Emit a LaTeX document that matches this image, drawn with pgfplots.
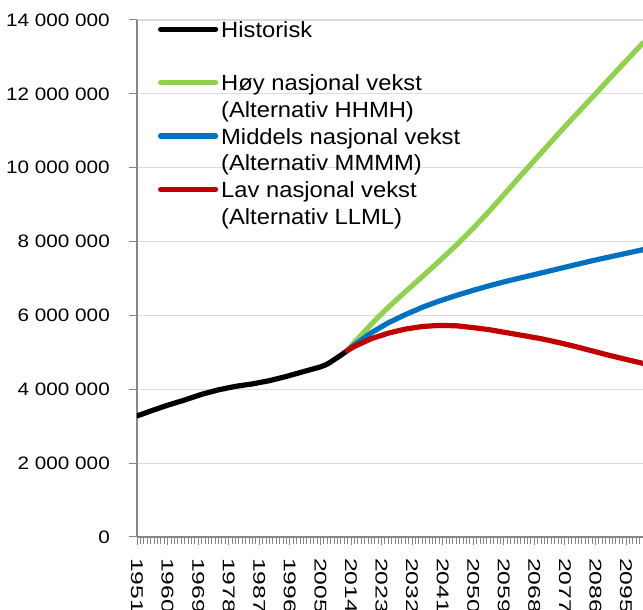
\documentclass[border=0pt]{standalone}
\usepackage{pgfplots}
\pgfplotsset{compat=1.18}
\usepackage{pgfplotstable}
\usepackage{fontspec}
\setmainfont{Liberation Sans}
\newfontfamily\ylabfont{Liberation Sans}[FakeStretch=1.15]
\newfontfamily\xlabfont{Liberation Sans}[FakeStretch=1.45]
\newfontfamily\legfont{Liberation Sans}[FakeStretch=1.08]
\definecolor{hoy}{RGB}{146,208,80}
\definecolor{mid}{RGB}{0,112,192}
\definecolor{lav}{RGB}{192,0,0}
\definecolor{gridc}{RGB}{217,222,220}
\definecolor{axc}{RGB}{134,134,134}

\pgfplotstableread{
year pop
1951 3278546
1953 3343000
1955 3410000
1960 3568000
1965 3708000
1970 3863000
1975 3985000
1980 4079000
1985 4146000
1990 4233000
1995 4348000
2000 4478000
2005 4606000
2006 4640000
2007 4681000
2008 4737000
2009 4799000
2010 4858000
2011 4920000
2012 4986000
2013 5051000
}\histtab

\pgfplotstableread{
year pop
2013 5051000
2015 5270000
2020 5760000
2022 5950000
2025 6220000
2030 6640000
2035 7050000
2040 7470000
2045 7900000
2050 8360000
2055 8850000
2060 9370000
2065 9890000
2070 10400000
2075 10910000
2080 11410000
2085 11900000
2090 12400000
2095 12890000
2100 13380000
}\hoytab

\pgfplotstableread{
year pop
2013 5051000
2015 5200000
2020 5530000
2025 5800000
2030 6020000
2035 6220000
2040 6390000
2045 6540000
2050 6680000
2055 6810000
2060 6930000
2065 7040000
2070 7150000
2075 7260000
2080 7370000
2085 7480000
2090 7580000
2095 7680000
2100 7780000
}\midtab

\pgfplotstableread{
year pop
2013 5051000
2015 5160000
2020 5370000
2025 5520000
2030 5630000
2035 5700000
2040 5730000
2045 5720000
2050 5670000
2055 5610000
2060 5530000
2065 5450000
2070 5370000
2075 5270000
2080 5160000
2085 5040000
2090 4920000
2095 4810000
2100 4700000
}\lavtab

\begin{document}
\begin{tikzpicture}
\begin{axis}[
  at={(0pt,0pt)}, anchor=south west,
  scale only axis, width=506pt, height=517pt,
  xmin=1951, xmax=2100, ymin=0, ymax=14000000,
  axis x line=bottom, axis y line=left,
  axis line style={-, draw=axc, line width=1.2pt},
  xtick={1951,1960,...,2095}, minor xtick={1951,...,2100},
  ytick={0,2000000,4000000,6000000,8000000,10000000,12000000,14000000},
  yticklabels={0,2 000 000,4 000 000,6 000 000,8 000 000,10 000 000,12 000 000,14 000 000},
  tick align=outside, major tick length=8pt, minor tick length=7pt,
  x tick style={draw=axc, line width=0.8pt},
  y tick style={draw=axc, line width=1pt},
  ymajorgrids, major grid style={draw=gridc, line width=1.2pt},
  scaled y ticks=false,
  /pgf/number format/assume math mode=true,
  xticklabel style={rotate=-90, anchor=west, inner xsep=13pt, inner ysep=0pt,
    font=\xlabfont\fontsize{17}{20}\selectfont, /pgf/number format/1000 sep={}},
  yticklabel style={inner xsep=19pt, font=\ylabfont\fontsize{18}{21}\selectfont},
  legend style={at={(rel axis cs:0,1)}, anchor=north west, xshift=21pt, yshift=1.4pt,
    draw=none, fill=none, inner sep=0pt, outer sep=0pt, row sep=0pt, column sep=3pt,
    font=\legfont\fontsize{22}{26.7}\selectfont, cells={anchor=base west},
    nodes={inner sep=0pt, text depth=, text height=}},
  legend image code/.code={\draw[#1, line cap=round] (0pt,8pt) -- (55pt,8pt);},
  every axis plot/.append style={line width=5.2pt, line join=round, line cap=round},
]
\addplot[black] table[x=year,y=pop] {\histtab};
\addlegendentry{\begin{tabular}[t]{@{}l@{}}Historisk\\ \mbox{}\end{tabular}}
\addplot[hoy] table[x=year,y=pop] {\hoytab};
\addlegendentry{\begin{tabular}[t]{@{}l@{}}Høy nasjonal vekst\\(Alternativ HHMH)\end{tabular}}
\addplot[mid] table[x=year,y=pop] {\midtab};
\addlegendentry{\begin{tabular}[t]{@{}l@{}}Middels nasjonal vekst\\(Alternativ MMMM)\end{tabular}}
\addplot[lav] table[x=year,y=pop] {\lavtab};
\addlegendentry{\begin{tabular}[t]{@{}l@{}}Lav nasjonal vekst\\(Alternativ LLML)\end{tabular}}
\end{axis}
\pgfresetboundingbox
\path[use as bounding box] (-137pt,-73pt) rectangle (506pt,537pt);
\end{tikzpicture}
\end{document}
